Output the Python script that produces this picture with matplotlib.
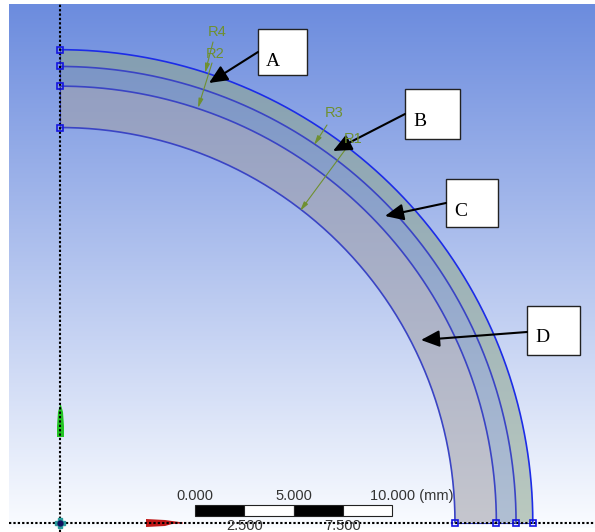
import numpy as np
import matplotlib
matplotlib.use('Agg')
import matplotlib.pyplot as plt
from matplotlib.patches import Wedge, Rectangle, Polygon

# radii of the ring boundaries, mm
radii = [24.0, 23.15, 22.15, 20.05]
band_colors = ['#8da591', '#7c94b3', '#a0a0aa']

# scale bar
scale_ticks = [0, 2.5, 5, 7.5, 10]
scale_labels = ['0.000', '2.500', '5.000', '7.500', '10.000 (mm)']

box_labels = ['A', 'B', 'C', 'D']
dim_labels = ['R4', 'R2', 'R3', 'R1']

PX = 19.7  # pixels per mm
OX, OY = 60, 522.5
W, H = 595, 532


def mm(x, y):
    # image pixel -> data coordinates
    return (x - OX) / PX, (OY - y) / PX


fig = plt.figure(figsize=(W / 100, H / 100), dpi=100)
ax = fig.add_axes([0, 0, 1, 1])
ax.axis('off')

# background gradient
top = np.array([108, 140, 222]) / 255
bottom = np.array([250, 252, 255]) / 255
t = np.linspace(0, 1, 256)[:, None, None]
grad = top * (1 - t) + bottom * t
x0, y0 = mm(9, 4)
x1, y1 = mm(W, 528)
ax.imshow(grad, extent=[x0, x1, y1, y0], aspect='auto', zorder=0)
ax.set_xlim(-OX / PX, (W - OX) / PX)
ax.set_ylim((OY - H) / PX, OY / PX)

# ring bands
for i in range(3):
    ax.add_patch(Wedge((0, 0), radii[i], 0, 90, width=radii[i] - radii[i + 1],
                       fc=band_colors[i], ec='none', alpha=0.58, zorder=1))
ax.plot([0, 0], [radii[-1], radii[0]], color='#3a46c8', lw=0.8, zorder=2)
ax.plot([radii[-1], radii[0]], [0, 0], color='#3a46c8', lw=0.8, zorder=2)
a = np.linspace(0, np.pi / 2, 300)
for i, r in enumerate(radii):
    col = '#1c2ce8' if i == 0 else '#3a44c4'
    ax.plot(r * np.cos(a), r * np.sin(a), color=col, lw=1.2, zorder=2)
    ax.plot([0, r], [r, 0], ls='none', marker='s', ms=4, mfc='none',
            mec='#1414e0', mew=1.2, zorder=5)

# dotted axes
xa, _ = mm(9, 0)
xb, _ = mm(W, 0)
_, yt = mm(0, 4)
_, yb = mm(0, 532)
ax.plot([0, 0], [yb, yt], color='black', lw=1.5, ls=(0, (1.1, 1.0)), zorder=4)
ax.plot([xa, xb], [0, 0], color='black', lw=1.5, ls=(0, (1.1, 1.0)), zorder=4)

# triad
p = [mm(57, 437), mm(64, 437), mm(64, 426), mm(63, 412), mm(61, 405), mm(60, 405), mm(58, 412), mm(57, 426)]
ax.add_patch(Polygon(p, fc='#22c422', ec='none', zorder=3))
p = [mm(146, 519), mm(146, 527), mm(165, 526), mm(172, 524), mm(183, 523.5), mm(183, 522.5), mm(172, 521), mm(165, 520)]
ax.add_patch(Polygon(p, fc='#c01818', ec='none', zorder=3))
ax.plot([0], [0], marker='P', ms=7, color='#2a9a9a', zorder=5)
ax.plot([0], [0], marker='o', ms=3.5, color='#101060', zorder=6)

# scale bar
sx, sy = mm(195, 515.5)
bar_h = 11 / PX
for i in range(4):
    ax.add_patch(Rectangle((sx + scale_ticks[i], sy), scale_ticks[i + 1] - scale_ticks[i], bar_h,
                           fc='black' if i % 2 == 0 else 'white', ec='#222222', lw=0.8, zorder=6))
for i, lab in enumerate(scale_labels):
    if i % 2 == 0:
        y = sy + bar_h + 1.5 / PX
        va = 'bottom'
    else:
        y = sy - 3.5 / PX
        va = 'top'
    dx = 20 / PX if i == 4 else 0
    ax.text(sx + scale_ticks[i] + dx, y, lab, ha='center', va=va, fontsize=10.5,
            family='Liberation Sans', color='#333333', zorder=7)

# dimension leaders
dim_col = '#6f9030'
dim_text = [(217, 32), (215, 54), (334, 113), (353, 139)]
dim_line = [((213, 42), (205, 73)), ((212, 63), (198, 108)), ((327, 125), (314, 145)), ((345, 150), (300, 211))]
for lab, tp, ln in zip(dim_labels, dim_text, dim_line):
    ax.text(*mm(*tp), lab, ha='center', va='center', fontsize=10.5,
            family='Liberation Sans', color=dim_col, zorder=10)
    ax.annotate('', xy=mm(*ln[1]), xytext=mm(*ln[0]), zorder=7,
                arrowprops=dict(arrowstyle='-|>,head_length=0.55,head_width=0.14', color=dim_col,
                                lw=0.8, shrinkA=0, shrinkB=0))

# callout boxes and arrows
boxes = [(258, 29, 307, 75), (405, 89, 460, 139), (446, 179, 498, 227), (527, 306, 580, 355)]
tails = [(258, 52), (405, 114), (446, 203), (527, 332)]
tips = [(209, 83), (333, 151), (385, 216), (421, 340)]
for lab, b, tl, tp in zip(box_labels, boxes, tails, tips):
    x, y = mm(b[0], b[3])
    ax.add_patch(Rectangle((x, y), (b[2] - b[0]) / PX, (b[3] - b[1]) / PX,
                           fc='white', ec='#222222', lw=1.0, zorder=8))
    ax.text(*mm(b[0] + 15, b[1] + 32), lab, ha='center', va='center', fontsize=14,
            family='Liberation Serif', color='black', zorder=9)
    ax.annotate('', xy=mm(*tp), xytext=mm(*tl), zorder=8,
                arrowprops=dict(arrowstyle='-|>,head_length=0.8,head_width=0.36', color='black',
                                lw=1.5, shrinkA=0, shrinkB=0, mutation_scale=14))

fig.savefig('out.png', dpi=100)
